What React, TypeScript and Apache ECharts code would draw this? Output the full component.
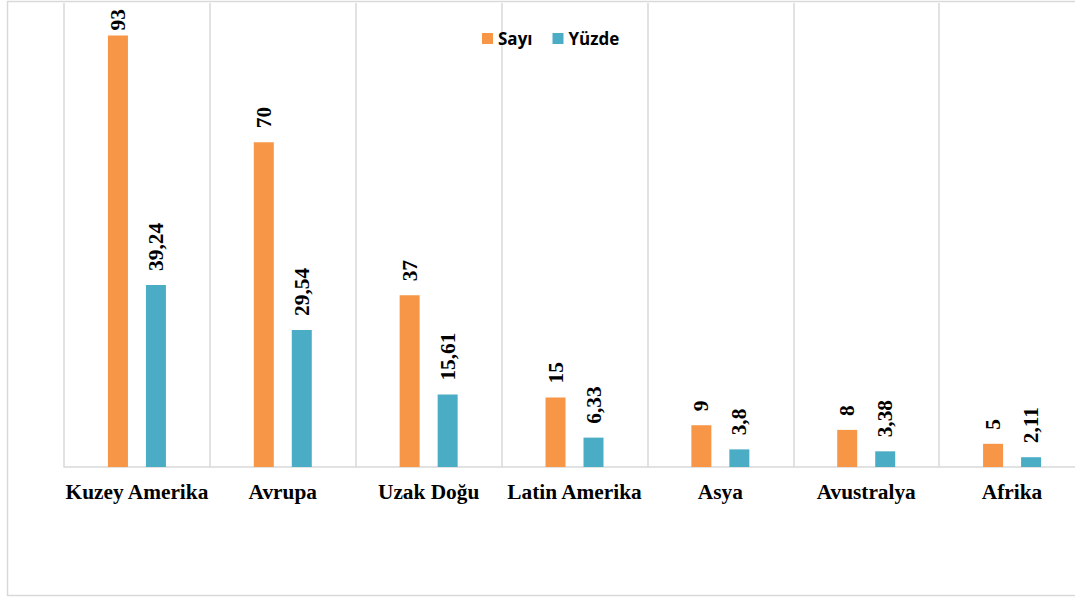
import React, { useEffect, useRef } from "react";
import * as echarts from "echarts";

const categories = ["Kuzey Amerika", "Avrupa", "Uzak Doğu", "Latin Amerika", "Asya", "Avustralya", "Afrika"];
const sayi = [93, 70, 37, 15, 9, 8, 5];
const yuzde = [39.24, 29.54, 15.61, 6.33, 3.8, 3.38, 2.11];

const labelStyle = {
  show: true,
  position: "top" as const,
  rotate: 90,
  align: "left" as const,
  verticalAlign: "middle" as const,
  distance: 14,
  fontFamily: "Liberation Serif",
  fontWeight: "bold" as const,
  fontSize: 21.33,
  color: "#000",
  formatter: (p: any) => String(p.value).replace(".", ","),
};

// Labels that would leave the plot top are pulled closer to their bar
const toData = (vals: number[]) =>
  vals.map((v) => (v > 90 ? { value: v, label: { distance: 5 } } : v));

export default function App() {
  const ref = useRef<HTMLDivElement>(null);
  useEffect(() => {
    if (!ref.current) return;
    const chart = echarts.init(ref.current, undefined, { renderer: "svg" });
    chart.setOption({
      animation: false,
      backgroundColor: "#fff",
      graphic: [
        {
          type: "rect",
          shape: { x: 7.5, y: 1.5, width: 1150, height: 594 },
          style: { fill: "none", stroke: "#d9d9d9", lineWidth: 1.5 },
          z: -1,
        },
      ],
      legend: {
        left: 477,
        top: 25,
        itemWidth: 11,
        itemHeight: 11,
        itemGap: 20,
        icon: "rect",
        textStyle: { fontFamily: "Open Sans", fontWeight: "bold", fontSize: 17, color: "#000" },
        data: ["Sayı", "Yüzde"],
      },
      grid: { left: 64, width: 1021, top: 3, height: 464, containLabel: false },
      xAxis: {
        type: "category",
        data: categories,
        axisLine: { show: true, lineStyle: { color: "#d9d9d9", width: 1.5 } },
        axisTick: { show: false },
        splitLine: { show: true, lineStyle: { color: "#d9d9d9", width: 1.5 } },
        axisLabel: {
          interval: 0,
          margin: 14,
          fontFamily: "Liberation Serif",
          fontWeight: "bold",
          fontSize: 21.33,
          color: "#000",
        },
      },
      yAxis: {
        type: "value",
        min: 0,
        max: 100,
        show: false,
        splitLine: { show: false },
      },
      series: [
        {
          name: "Sayı",
          type: "bar",
          data: toData(sayi),
          barWidth: 20,
          barGap: "90%",
          itemStyle: { color: "#F79646" },
          label: labelStyle,
        },
        {
          name: "Yüzde",
          type: "bar",
          data: toData(yuzde),
          barWidth: 20,
          itemStyle: { color: "#4BACC6" },
          label: labelStyle,
        },
      ],
    });
    return () => chart.dispose();
  }, []);
  return (
    <div style={{ position: "absolute", left: 0, top: 0, width: 1075, height: 599, overflow: "hidden" }}>
      <div ref={ref} style={{ width: 1120, height: 599 }} />
    </div>
  );
}
